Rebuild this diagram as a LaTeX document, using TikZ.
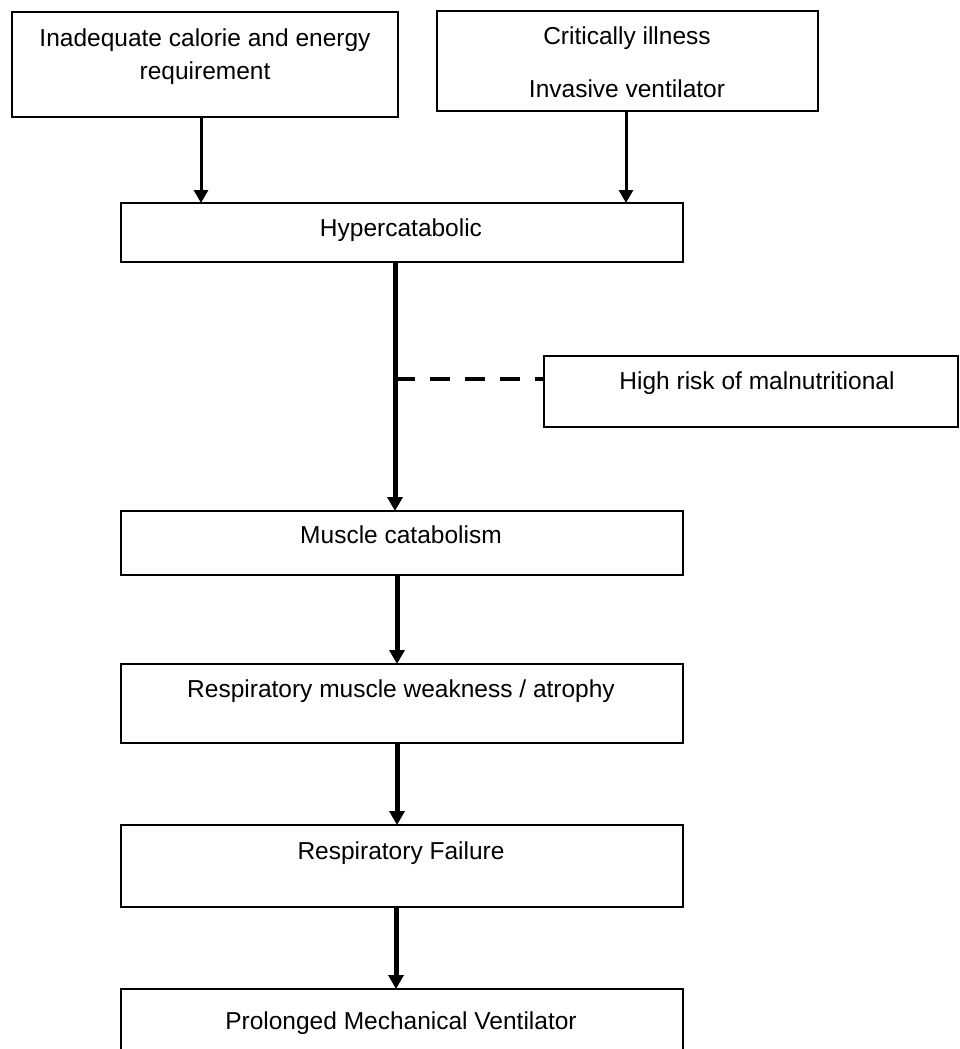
\documentclass[tikz,border=0pt]{standalone}
\usepackage{fontspec}
\setmainfont{Liberation Sans}
\usetikzlibrary{arrows.meta}
\begin{document}
\begin{tikzpicture}[x=1pt,y=-1pt,
  box/.style={draw,line width=1.5pt,rectangle,inner sep=0pt,outer sep=0pt,anchor=north west},
  txt/.style={font=\fontsize{24.5}{29}\selectfont,inner sep=0pt,anchor=base},
  thinarrow/.style={line width=3pt,-{Triangle[width=14pt,length=13pt]}},
  thickarrow/.style={line width=5pt,-{Triangle[width=15pt,length=14pt]}},
  dashline/.style={line width=4pt,dash pattern=on 19.5pt off 15.5pt}]
\useasboundingbox (0,0) rectangle (959,1049);
\fill[white] (0,0) rectangle (959,1049);
\clip (0,0) rectangle (959,1049);
% boxes
\node[box,minimum width=386pt,minimum height=105pt] (inad) at (12,12) {};
\node[box,minimum width=381pt,minimum height=100pt] (crit) at (437,11) {};
\node[box,minimum width=562pt,minimum height=59pt] (hyper) at (121,203) {};
\node[box,minimum width=414pt,minimum height=71pt] (risk) at (544,356) {};
\node[box,minimum width=562pt,minimum height=64pt] (muscle) at (121,511) {};
\node[box,minimum width=562pt,minimum height=79pt] (respm) at (121,664) {};
\node[box,minimum width=562pt,minimum height=82pt] (fail) at (121,825) {};
\node[box,minimum width=562pt,minimum height=90pt] (prol) at (121,989) {};
% texts
\node[txt] (t1a) at (205,47) {Inadequate calorie and energy};
\node[txt] (t1b) at (205,79) {requirement};
\node[txt] (t2a) at (627,45) {Critically illness};
\node[txt] (t2b) at (627,97) {Invasive ventilator};
\node[txt] (t3) at (401,236) {Hypercatabolic};
\node[txt] (t4) at (757,389) {High risk of malnutritional};
\node[txt] (t5) at (401,543) {Muscle catabolism};
\node[txt] (t6) at (401,697) {Respiratory muscle weakness / atrophy};
\node[txt] (t7) at (401,859) {Respiratory Failure};
\node[txt] (t8) at (401,1029) {Prolonged Mechanical Ventilator};
% connectors
\draw[thinarrow] ([xshift=-4pt]inad.south) -- ([xshift=-4pt]inad.south |- hyper.north);
\draw[thinarrow] ([xshift=-1.5pt]crit.south) -- ([xshift=-1.5pt]crit.south |- hyper.north);
\coordinate (j) at (395,379);
\draw[dashline] (j) -- (j -| risk.west);
\draw[thickarrow] ([xshift=-7pt]hyper.south) -- ([xshift=-7pt]hyper.south |- muscle.north);
\draw[thickarrow] ([xshift=-5pt]muscle.south) -- ([xshift=-5pt]muscle.south |- respm.north);
\draw[thickarrow] ([xshift=-5pt]respm.south) -- ([xshift=-5pt]respm.south |- fail.north);
\draw[thickarrow] ([xshift=-6pt]fail.south) -- ([xshift=-6pt]fail.south |- prol.north);
\end{tikzpicture}
\end{document}
